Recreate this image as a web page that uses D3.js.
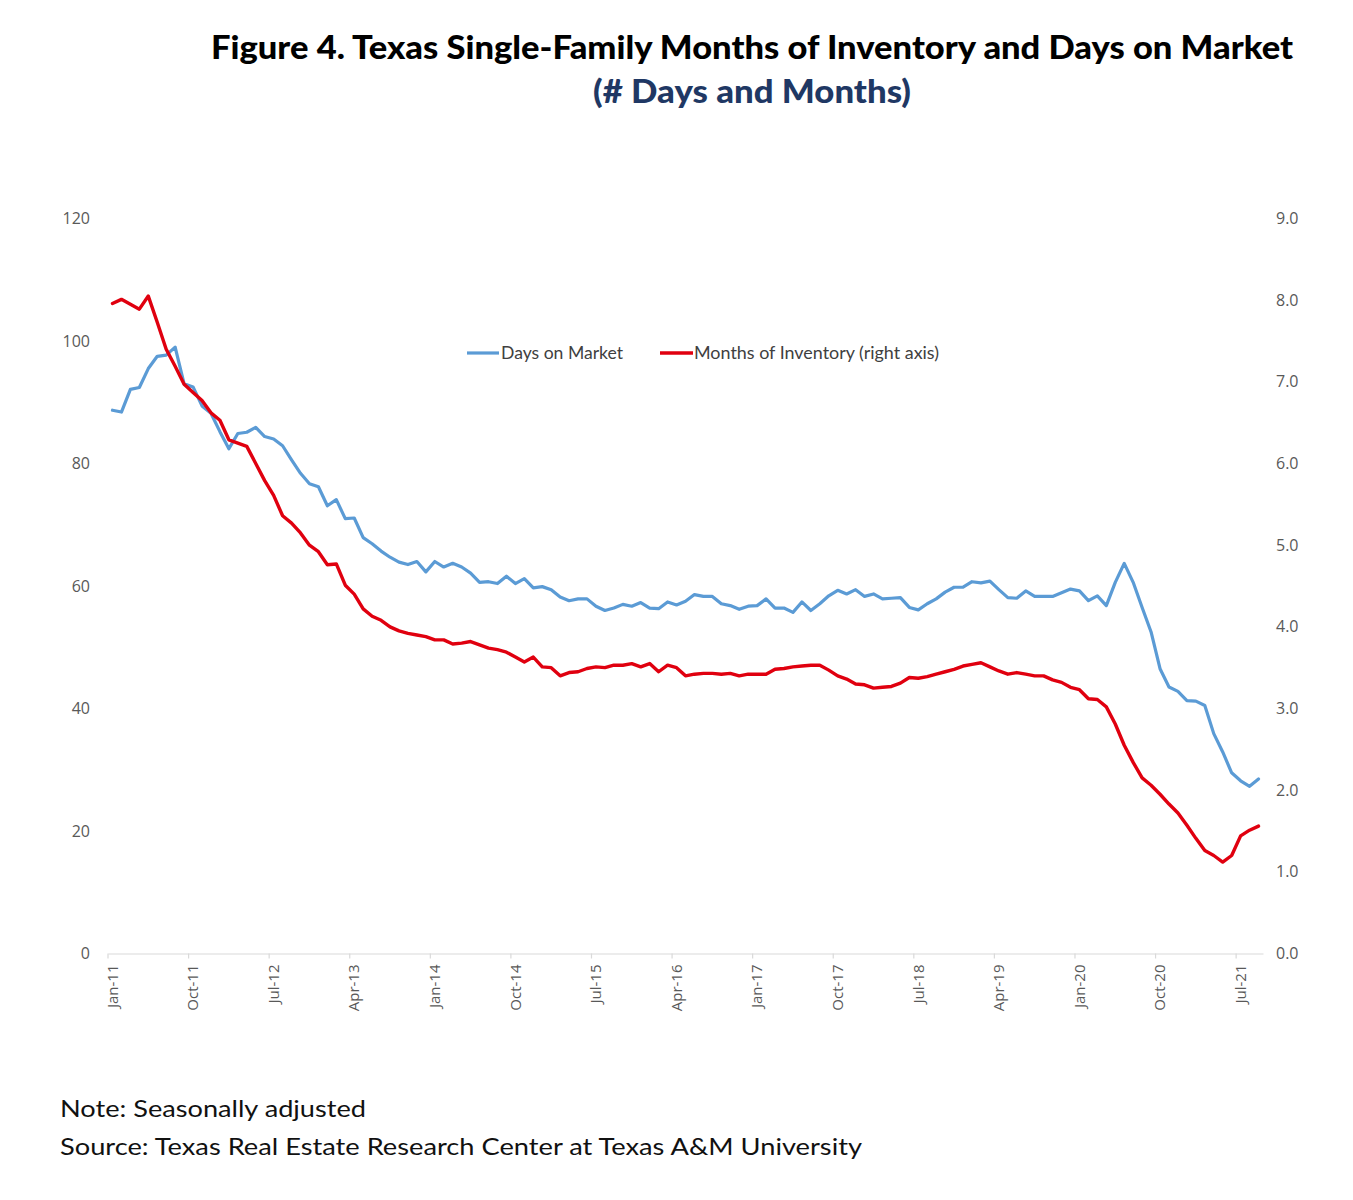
<!DOCTYPE html>
<html>
<head>
<meta charset="utf-8">
<script src="https://cdn.jsdelivr.net/npm/d3@7"></script>
<style>
  html, body { margin: 0; padding: 0; background: #fff; }
  svg { display: block; }
</style>
</head>
<body>
<svg id="chart" width="1353" height="1200"></svg>
<script>
// ---------------- DATA ----------------
const monthNames = ["Jan","Feb","Mar","Apr","May","Jun","Jul","Aug","Sep","Oct","Nov","Dec"];
// categories: Jan-11 .. Sep-21 (monthly)
const categories = [];
for (let y = 11; y <= 21; y++) {
  for (let m = 0; m < 12; m++) {
    if (y === 21 && m > 8) break;
    categories.push(monthNames[m] + "-" + y);
  }
}

const tickLabels = ["Jan-11","Oct-11","Jul-12","Apr-13","Jan-14","Oct-14","Jul-15","Apr-16",
                    "Jan-17","Oct-17","Jul-18","Apr-19","Jan-20","Oct-20","Jul-21"];

const leftTicks = [0, 20, 40, 60, 80, 100, 120];
const rightTicks = [0, 1, 2, 3, 4, 5, 6, 7, 8, 9];

// Days on Market (left axis)
const daysOnMarket = [
  88.7, 88.4, 92.1, 92.4, 95.5, 97.5, 97.7, 99.0, 93.0, 92.5, 89.4, 88.2,
  85.2, 82.4, 84.9, 85.1, 85.9, 84.4, 84.0, 82.9, 80.6, 78.4, 76.7, 76.2,
  73.1, 74.1, 71.0, 71.1, 67.9, 66.9, 65.7, 64.7, 63.9, 63.5, 64.0, 62.3,
  64.0, 63.1, 63.7, 63.1, 62.1, 60.6, 60.7, 60.4, 61.6, 60.4, 61.2, 59.7,
  59.9, 59.4, 58.2, 57.6, 57.9, 57.9, 56.7, 56.0, 56.4, 57.0, 56.7, 57.3,
  56.4, 56.3, 57.4, 56.9, 57.5, 58.6, 58.3, 58.3, 57.1, 56.8, 56.2, 56.7,
  56.8, 57.9, 56.4, 56.4, 55.7, 57.4, 56.0, 57.1, 58.4, 59.3, 58.7, 59.4,
  58.3, 58.7, 57.9, 58.0, 58.1, 56.5, 56.1, 57.1, 57.9, 59.0, 59.8, 59.8,
  60.7, 60.5, 60.8, 59.4, 58.1, 58.0, 59.2, 58.3, 58.3, 58.3, 58.9, 59.5,
  59.2, 57.6, 58.4, 56.8, 60.6, 63.7, 60.6, 56.5, 52.5, 46.5, 43.5, 42.8,
  41.3, 41.2, 40.5, 35.9, 32.9, 29.5, 28.2, 27.3, 28.5
];

// Months of Inventory (right axis)
const monthsOfInventory = [
  7.96, 8.01, 7.95, 7.89, 8.05, 7.73, 7.40, 7.19, 6.97, 6.87, 6.77, 6.62,
  6.53, 6.29, 6.25, 6.21, 6.00, 5.79, 5.61, 5.36, 5.27, 5.15, 5.00, 4.92,
  4.76, 4.77, 4.51, 4.40, 4.22, 4.13, 4.08, 4.00, 3.95, 3.92, 3.90, 3.88,
  3.84, 3.84, 3.79, 3.80, 3.82, 3.78, 3.74, 3.72, 3.69, 3.63, 3.57, 3.63,
  3.51, 3.50, 3.40, 3.44, 3.45, 3.49, 3.51, 3.50, 3.53, 3.53, 3.55, 3.51,
  3.55, 3.45, 3.53, 3.50, 3.40, 3.42, 3.43, 3.43, 3.42, 3.43, 3.40, 3.42,
  3.42, 3.42, 3.48, 3.49, 3.51, 3.52, 3.53, 3.53, 3.47, 3.40, 3.36, 3.30,
  3.29, 3.25, 3.26, 3.27, 3.31, 3.38, 3.37, 3.39, 3.42, 3.45, 3.48, 3.52,
  3.54, 3.56, 3.51, 3.46, 3.42, 3.44, 3.42, 3.40, 3.40, 3.35, 3.32, 3.26,
  3.23, 3.12, 3.11, 3.02, 2.81, 2.55, 2.34, 2.15, 2.06, 1.95, 1.83, 1.72,
  1.57, 1.41, 1.26, 1.20, 1.12, 1.20, 1.44, 1.51, 1.56
];

// ---------------- CHART ----------------
const svg = d3.select("#chart");
const W = 1353, H = 1200;
svg.append("rect").attr("width", W).attr("height", H).attr("fill", "#fff");

const plot = { left: 108, right: 1263, top: 218.5, bottom: 953.5 };

const x = d3.scaleBand().domain(categories).range([plot.left, plot.right]).padding(0);
const cx = d => x(d) + x.bandwidth() / 2;
const yL = d3.scaleLinear().domain([0, 120]).range([plot.bottom, plot.top]);
const yR = d3.scaleLinear().domain([0, 9]).range([plot.bottom, plot.top]);

// Title
svg.append("text")
  .attr("x", 752).attr("y", 59)
  .attr("text-anchor", "middle")
  .attr("font-family", "Lato, 'Open Sans', sans-serif")
  .attr("font-weight", "900")
  .attr("font-size", 33)
  .attr("fill", "#000")
  .attr("textLength", 1082).attr("lengthAdjust", "spacingAndGlyphs")
  .text("Figure 4. Texas Single-Family Months of Inventory and Days on Market");

svg.append("text")
  .attr("x", 752).attr("y", 103)
  .attr("text-anchor", "middle")
  .attr("font-family", "Lato, 'Open Sans', sans-serif")
  .attr("font-weight", "900")
  .attr("font-size", 33)
  .attr("fill", "#1F3864")
  .attr("textLength", 318).attr("lengthAdjust", "spacingAndGlyphs")
  .text("(# Days and Months)");

// Left axis
const axL = d3.axisLeft(yL).tickValues(leftTicks).tickSize(0).tickPadding(0).tickFormat(d3.format("d"));
const gL = svg.append("g").attr("transform", `translate(${plot.left - 18},0)`).call(axL);
gL.select(".domain").remove();
gL.selectAll("text")
  .attr("font-family", "'Open Sans', sans-serif")
  .attr("font-size", 16)
  .attr("fill", "#595959");

// Right axis
const axR = d3.axisRight(yR).tickValues(rightTicks).tickSize(0).tickPadding(0).tickFormat(d3.format(".1f"));
const gR = svg.append("g").attr("transform", `translate(${plot.right + 13},0)`).call(axR);
gR.select(".domain").remove();
gR.selectAll("text")
  .attr("font-family", "'Open Sans', sans-serif")
  .attr("font-size", 16)
  .attr("fill", "#595959");

// Bottom axis
const axB = d3.axisBottom(x).tickValues(tickLabels).tickSize(0).tickPadding(0);
const gB = svg.append("g").attr("transform", `translate(0,${plot.bottom})`).call(axB);
gB.select(".domain").attr("stroke", "#d9d9d9").attr("stroke-width", 1.2);
gB.selectAll(".tick text")
  .attr("font-family", "'Open Sans', sans-serif")
  .attr("font-size", 15)
  .attr("fill", "#595959")
  .attr("text-anchor", "end")
  .attr("x", 0).attr("y", 0)
  .attr("dy", "0.35em")
  .attr("transform", "translate(0,11) rotate(-90)");
// tick marks at category boundaries
gB.selectAll(".tick").each(function(d) {
  d3.select(this).append("line")
    .attr("x1", -x.bandwidth() / 2).attr("x2", -x.bandwidth() / 2)
    .attr("y1", 0).attr("y2", 5)
    .attr("stroke", "#d9d9d9").attr("stroke-width", 1.2);
});

// Lines
const lineDays = d3.line()
  .x((d, i) => cx(categories[i]))
  .y(d => yL(d));
const lineInv = d3.line()
  .x((d, i) => cx(categories[i]))
  .y(d => yR(d));

svg.append("path")
  .datum(daysOnMarket)
  .attr("d", lineDays)
  .attr("fill", "none")
  .attr("stroke", "#5B9BD5")
  .attr("stroke-width", 3.2)
  .attr("stroke-linejoin", "round")
  .attr("stroke-linecap", "round");

svg.append("path")
  .datum(monthsOfInventory)
  .attr("d", lineInv)
  .attr("fill", "none")
  .attr("stroke", "#E0000F")
  .attr("stroke-width", 3.4)
  .attr("stroke-linejoin", "round")
  .attr("stroke-linecap", "round");

// Legend
const legendItems = [
  { label: "Days on Market", color: "#5B9BD5", x1: 467, x2: 499, tx: 501, w: 122, sw: 3.2 },
  { label: "Months of Inventory (right axis)", color: "#E0000F", x1: 660, x2: 693, tx: 694, w: 245, sw: 3.4 }
];
const lg = svg.append("g");
legendItems.forEach(it => {
  lg.append("line").attr("x1", it.x1).attr("x2", it.x2).attr("y1", 353).attr("y2", 353)
    .attr("stroke", it.color).attr("stroke-width", it.sw);
  lg.append("text").attr("x", it.tx).attr("y", 353).attr("dy", "0.35em")
    .attr("font-family", "Lato, 'Open Sans', sans-serif")
    .attr("font-size", 17)
    .attr("fill", "#404040")
    .attr("textLength", it.w).attr("lengthAdjust", "spacingAndGlyphs")
    .text(it.label);
});

// Footnotes
svg.append("text").attr("x", 60).attr("y", 1117)
  .attr("font-family", "Lato, 'Open Sans', sans-serif")
  .attr("font-size", 24).attr("fill", "#111")
  .attr("textLength", 306).attr("lengthAdjust", "spacingAndGlyphs")
  .text("Note: Seasonally adjusted");
svg.append("text").attr("x", 60).attr("y", 1155)
  .attr("font-family", "Lato, 'Open Sans', sans-serif")
  .attr("font-size", 24).attr("fill", "#111")
  .attr("textLength", 802).attr("lengthAdjust", "spacingAndGlyphs")
  .text("Source: Texas Real Estate Research Center at Texas A&M University");
</script>
</body>
</html>
